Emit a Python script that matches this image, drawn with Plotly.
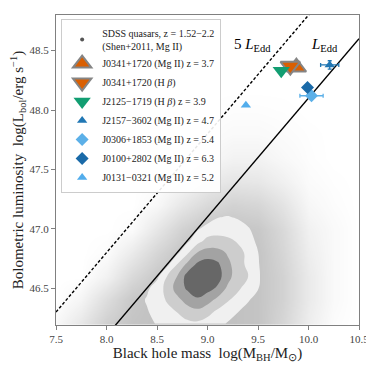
import plotly.graph_objects as go

# SDSS scatter cloud, density (0 = empty, 1 = densest)
haze_mass = [7.5, 7.75, 8.0, 8.25, 8.5, 8.75, 9.0, 9.25, 9.5, 9.75, 10.0, 10.25, 10.5]
haze_lum = [46.2, 46.4, 46.6, 46.8, 47.0, 47.2, 47.4, 47.6, 47.8, 48.0, 48.2, 48.4]
haze_density = [
    [0.1, 0.35, 0.7, 0.85, 0.9, 0.9, 0.9, 0.9, 0.85, 0.6, 0.25, 0.05, 0],
    [0, 0.15, 0.5, 0.8, 0.9, 0.9, 0.9, 0.9, 0.85, 0.65, 0.3, 0.08, 0],
    [0, 0, 0.2, 0.55, 0.8, 0.9, 0.9, 0.9, 0.85, 0.65, 0.3, 0.08, 0],
    [0, 0, 0.05, 0.3, 0.6, 0.85, 0.9, 0.9, 0.85, 0.6, 0.25, 0.08, 0],
    [0, 0, 0, 0.05, 0.35, 0.65, 0.85, 0.85, 0.8, 0.55, 0.2, 0.08, 0],
    [0, 0, 0, 0, 0.1, 0.35, 0.55, 0.65, 0.6, 0.4, 0.12, 0.04, 0],
    [0, 0, 0, 0, 0.02, 0.12, 0.3, 0.38, 0.35, 0.22, 0.06, 0.02, 0],
    [0, 0, 0, 0, 0, 0.03, 0.1, 0.18, 0.18, 0.1, 0.03, 0, 0],
    [0, 0, 0, 0, 0, 0, 0.04, 0.08, 0.08, 0.05, 0.02, 0, 0],
    [0, 0, 0, 0, 0, 0, 0.01, 0.03, 0.03, 0.02, 0, 0, 0],
    [0, 0, 0, 0, 0, 0, 0, 0, 0, 0, 0, 0, 0],
    [0, 0, 0, 0, 0, 0, 0, 0, 0, 0, 0, 0, 0],
]

# KDE of the SDSS sample, in contour-level units (1 = outermost .. 4 = innermost)
kde_mass = [8.2, 8.3, 8.4, 8.5, 8.6, 8.7, 8.8, 8.9, 9.0, 9.1, 9.2, 9.3, 9.4, 9.5, 9.6, 9.7, 9.8]
kde_lum = [46.2, 46.3, 46.4, 46.5, 46.6, 46.7, 46.8, 46.9, 47.0, 47.1, 47.2]
kde_level = [
    [0, 0, 0.4, 1.15, 1.4, 1.6, 1.75, 1.8, 1.6, 1.3, 0.92, 0.5, 0.3, 0.1, 0, 0, 0],
    [0, 0.3, 0.9, 1.4, 1.7, 2.02, 2.5, 2.7, 2.3, 1.8, 1.4, 1.02, 0.6, 0.3, 0.1, 0, 0],
    [0.2, 0.6, 1.1, 1.5, 2.1, 2.7, 3.4, 3.85, 3.4, 2.7, 2.1, 1.6, 1.1, 0.6, 0.3, 0.1, 0],
    [0, 0.3, 0.8, 1.5, 2.3, 3.45, 4.15, 4.55, 4.35, 3.85, 2.8, 2.2, 1.55, 1.05, 0.5, 0.2, 0],
    [0, 0, 0.2, 0.75, 2.02, 3.02, 4.4, 4.9, 5.0, 4.4, 3.4, 2.4, 2.02, 1.2, 0.2, 0, 0],
    [0, 0, 0, 0.2, 0.75, 2.02, 3.25, 4.2, 4.5, 4.2, 3.2, 2.6, 1.7, 1.1, 0.3, 0, 0],
    [0, 0, 0, 0, 0.1, 0.8, 1.8, 3.02, 3.4, 3.3, 2.9, 2.3, 1.8, 1.02, 0.3, 0, 0],
    [0, 0, 0, 0, 0, 0.1, 0.8, 1.6, 2.3, 2.4, 2.2, 1.9, 1.4, 0.8, 0.2, 0, 0],
    [0, 0, 0, 0, 0, 0, 0.1, 0.9, 1.3, 1.5, 1.5, 1.4, 1.1, 0.6, 0.1, 0, 0],
    [0, 0, 0, 0, 0, 0, 0, 0.2, 0.6, 0.95, 1.05, 0.9, 0.6, 0.2, 0, 0, 0],
    [0, 0, 0, 0, 0, 0, 0, 0, 0.1, 0.2, 0.3, 0.2, 0.1, 0, 0, 0, 0],
]

# high-z quasars
qso_names = [
    "J0341+1720 (Mg II) z = 3.7",
    "J0341+1720 (H <i>β</i>)",
    "J2125−1719 (H <i>β</i>) z = 3.9",
    "J2157−3602 (Mg II) z = 4.7",
    "J0306+1853 (Mg II) z = 5.4",
    "J0100+2802 (Mg II) z = 6.3",
    "J0131−0321 (Mg II) z = 5.2",
]
qso_mass = [9.88, 9.82, 9.73, 10.21, 10.03, 9.99, 9.38]
qso_lum = [48.36, 48.37, 48.33, 48.38, 48.12, 48.19, 48.04]
qso_mass_err = [0, 0, 0, 0.09, 0.115, 0, 0]
qso_lum_err = [0, 0, 0, 0.035, 0, 0, 0]
qso_symbols = ["triangle-up", "triangle-down", "triangle-down", "triangle-up", "diamond", "diamond", "triangle-up"]
qso_colors = ["#d95f02", "#d95f02", "#129e72", "#2077b4", "#5cb0e8", "#1a6aa8", "#52adec"]
qso_edges = ["#858585", "#858585", "#129e72", "#2077b4", "#5cb0e8", "#1a6aa8", "#52adec"]
qso_sizes = [17, 17, 15, 9, 10, 10, 9]

edd_offset = 38.1  # log(1.26e38 erg/s per Msun)
edd_mass = [7.5, 10.5]

serif = "Liberation Serif"

fig = go.Figure()

fig.add_trace(go.Heatmap(x=haze_mass, y=haze_lum, z=haze_density, zsmooth="best",
                         zmin=0, zmax=1, showscale=False, hoverinfo="skip",
                         colorscale=[[0, "rgba(140,140,140,0)"], [1, "rgba(140,140,140,0.6)"]]))

c0, c1, c2, c3, c4 = "rgba(255,255,255,0)", "#f0f0f0", "#cdcdcd", "#a3a3a3", "#676767"
fig.add_trace(go.Contour(x=kde_mass, y=kde_lum, z=kde_level, showscale=False, hoverinfo="skip",
                         contours=dict(start=1, end=4, size=1, coloring="fill"),
                         line=dict(width=0, smoothing=1.3),
                         colorscale=[[0, c0], [0.125, c0], [0.125, c1], [0.375, c1], [0.375, c2],
                                     [0.625, c2], [0.625, c3], [0.875, c3], [0.875, c4], [1, c4]]))

fig.add_trace(go.Scatter(x=edd_mass, y=[m + edd_offset for m in edd_mass], mode="lines",
                         line=dict(color="black", width=1.4), showlegend=False, hoverinfo="skip"))
fig.add_trace(go.Scatter(x=edd_mass, y=[m + edd_offset + 0.699 for m in edd_mass], mode="lines",
                         line=dict(color="black", width=1.4, dash="3px,2px"), showlegend=False, hoverinfo="skip"))

# legend entry for the SDSS cloud
fig.add_trace(go.Scatter(x=[None], y=[None], mode="markers",
                         name="SDSS quasars, z = 1.52−2.2<br>(Shen+2011, Mg II)",
                         marker=dict(color="#555555", size=4)))

for i in range(len(qso_names)):
    fig.add_trace(go.Scatter(
        x=[qso_mass[i]], y=[qso_lum[i]], mode="markers", name=qso_names[i],
        marker=dict(symbol=qso_symbols[i], size=qso_sizes[i], color=qso_colors[i],
                    line=dict(color=qso_edges[i], width=2 if i < 2 else 0)),
        error_x=dict(type="data", array=[qso_mass_err[i]], visible=qso_mass_err[i] > 0,
                     color=qso_colors[i], thickness=1.3, width=2),
        error_y=dict(type="data", array=[qso_lum_err[i]], visible=qso_lum_err[i] > 0,
                     color=qso_colors[i], thickness=1.3, width=2),
    ))

fig.add_annotation(x=9.45, y=48.55, text="5 <i>L</i><sub>Edd</sub>", showarrow=False,
                   font=dict(family=serif, size=15, color="black"))
fig.add_annotation(x=10.16, y=48.55, text="<i>L</i><sub>Edd</sub>", showarrow=False,
                   font=dict(family=serif, size=15, color="black"))

axis_style = dict(ticks="outside", ticklen=4, tickcolor="#808080", linecolor="#808080",
                  linewidth=1.2, mirror=True, showgrid=False, zeroline=False, automargin=False,
                  tickfont=dict(family=serif, size=11, color="#444444"), tickformat=".1f")

fig.update_xaxes(range=[7.5, 10.5], dtick=0.5,
                 title=dict(text="Black hole mass  log(M<sub>BH</sub>/M<sub>⊙</sub>)",
                            font=dict(family=serif, size=15, color="#222222"), standoff=2),
                 **axis_style)
fig.update_yaxes(range=[46.19, 48.8], tickvals=[46.5, 47.0, 47.5, 48.0, 48.5],
                 title=dict(text="Bolometric luminosity  log(L<sub>bol</sub>/erg s<sup>−1</sup>)",
                            font=dict(family=serif, size=15, color="#222222"), standoff=6),
                 **axis_style)

# the page body adds an 8px offset, so the figure is 8px smaller
fig.update_layout(
    width=366, height=366,
    margin=dict(l=48, r=15, t=7, b=49),
    plot_bgcolor="white", paper_bgcolor="white",
    font=dict(family=serif, size=10, color="#222222"),
    legend=dict(x=0.017, y=0.987, xanchor="left", yanchor="top",
                bgcolor="rgba(255,255,255,0.9)", bordercolor="#cccccc", borderwidth=1,
                font=dict(family=serif, size=10)),
)

fig.write_html("out.html")
